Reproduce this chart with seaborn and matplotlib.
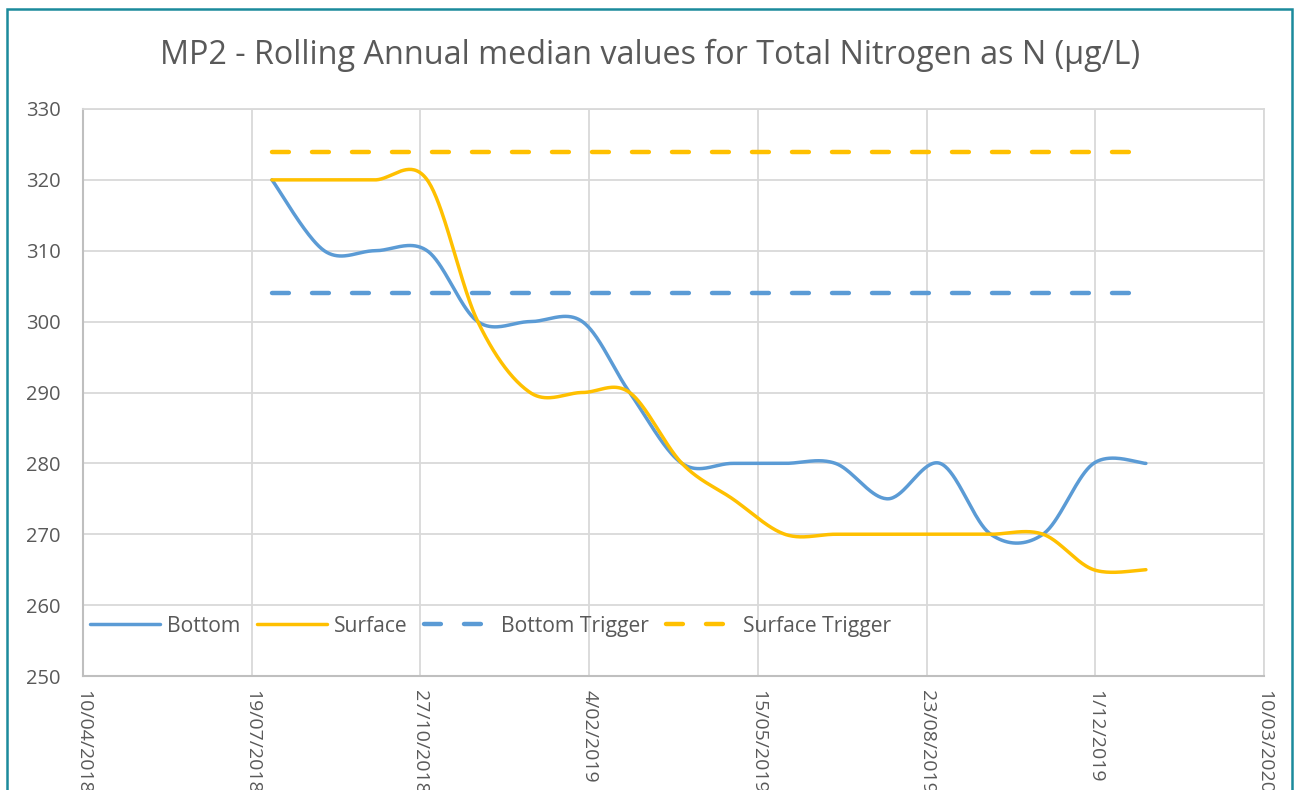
import numpy as np
import pandas as pd
import matplotlib
matplotlib.use("Agg")
import matplotlib.pyplot as plt
import matplotlib.dates as mdates
from matplotlib.patches import Rectangle
import seaborn as sns

# monthly rolling annual medians (ug/L), month ends Jul 2018 - Dec 2019
dates = pd.date_range("2018-07-31", "2019-12-31", freq="ME")
bottom = [320, 310, 310, 310, 300, 300, 300, 290, 280, 280, 280, 280, 275, 280, 270, 270, 280, 280]
surface = [320, 320, 320, 320, 300, 290, 290, 290, 280, 275, 270, 270, 270, 270, 270, 270, 265, 265]
bottom_trigger = [304] * len(dates)
surface_trigger = [324] * len(dates)

tick_dates = pd.date_range("2018-04-10", periods=8, freq="100D")
y_ticks = list(range(250, 331, 10))

blue = "#5b9bd5"
gold = "#ffc000"
grey_txt = "#595959"


def smooth(x, y, k=40):
    # excel-like smoothed line (catmull-rom through the points)
    x = np.asarray(x, float)
    y = np.asarray(y, float)
    n = len(x)

    def tang(p):
        m = np.zeros(n)
        m[1:-1] = (p[2:] - p[:-2]) / 2
        m[0] = (p[1] - p[0]) / 2
        m[-1] = (p[-1] - p[-2]) / 2
        return m

    mx, my = tang(x), tang(y)
    t = np.linspace(0, 1, k, endpoint=False)
    h00 = 2 * t**3 - 3 * t**2 + 1
    h10 = t**3 - 2 * t**2 + t
    h01 = -2 * t**3 + 3 * t**2
    h11 = t**3 - t**2
    xs, ys = [], []
    for i in range(n - 1):
        xs.append(h00 * x[i] + h10 * mx[i] + h01 * x[i + 1] + h11 * mx[i + 1])
        ys.append(h00 * y[i] + h10 * my[i] + h01 * y[i + 1] + h11 * my[i + 1])
    xs.append([x[-1]])
    ys.append([y[-1]])
    return np.concatenate(xs), np.concatenate(ys)


sns.set_theme(style="white")
plt.rcParams["font.family"] = ["Open Sans", "DejaVu Sans"]

fig = plt.figure(figsize=(13.03, 7.9), dpi=100)
ax = fig.add_axes([83 / 1303, 1 - 676 / 790, 1181 / 1303, 567 / 790])

xnum = mdates.date2num(dates)

dash = (0, (3.8, 5.2))
sns.lineplot(x=xnum, y=bottom_trigger, ax=ax, color=blue, lw=3.2, linestyle=dash,
             dash_capstyle="round", label="Bottom Trigger", estimator=None, zorder=2)
sns.lineplot(x=xnum, y=surface_trigger, ax=ax, color=gold, lw=3.2, linestyle=dash,
             dash_capstyle="round", label="Surface Trigger", estimator=None, zorder=2)

bx, by = smooth(xnum, bottom)
sx, sy = smooth(xnum, surface)
sns.lineplot(x=bx, y=by, ax=ax, color=blue, lw=2.5, label="Bottom",
             estimator=None, sort=False, solid_capstyle="round", zorder=3)
sns.lineplot(x=sx, y=sy, ax=ax, color=gold, lw=2.5, label="Surface",
             estimator=None, sort=False, solid_capstyle="round", zorder=4)

ax.set_xlim(mdates.date2num(tick_dates[0]), mdates.date2num(tick_dates[-1]))
ax.set_ylim(250, 330)
ax.set_yticks(y_ticks)
ax.set_xticks(mdates.date2num(tick_dates))
ax.set_xticklabels([f"{d.day}/{d.month:02d}/{d.year}" for d in tick_dates],
                   rotation=-90, va="top", ha="center")
ax.tick_params(axis="y", length=0, pad=16, labelsize=14.5, labelcolor=grey_txt)
ax.tick_params(axis="x", length=0, pad=10, labelsize=14, labelcolor=grey_txt)
ax.set_xlabel("")
ax.set_ylabel("")

ax.grid(True, color="#d9d9d9", lw=1.3)
ax.set_axisbelow(True)
for s in ["top", "right"]:
    ax.spines[s].set_color("#d9d9d9")
    ax.spines[s].set_linewidth(1.3)
for s in ["left", "bottom"]:
    ax.spines[s].set_color("#bfbfbf")
    ax.spines[s].set_linewidth(1.5)

h, l = ax.get_legend_handles_labels()
order = [l.index(n) for n in ["Bottom", "Surface", "Bottom Trigger", "Surface Trigger"]]
ax.legend([h[i] for i in order], [l[i] for i in order], ncol=4, frameon=False,
          loc="center left", bbox_to_anchor=(-0.001, 0.088), fontsize=15.2,
          labelcolor=grey_txt, handlelength=3.3, handletextpad=0.35,
          columnspacing=0.78, borderaxespad=0)

fig.text(650 / 1303, 1 - 55 / 790,
         "MP2 - Rolling Annual median values for Total Nitrogen as N (µg/L)",
         ha="center", va="center", fontsize=23.3, color=grey_txt)

fig.patches.append(Rectangle((7 / 1303, -0.05), (1292 - 7) / 1303, 1 - 9 / 790 + 0.05,
                             transform=fig.transFigure, fill=False,
                             edgecolor="#1b8a9c", lw=1.8))

fig.savefig("out.png", dpi=100)
